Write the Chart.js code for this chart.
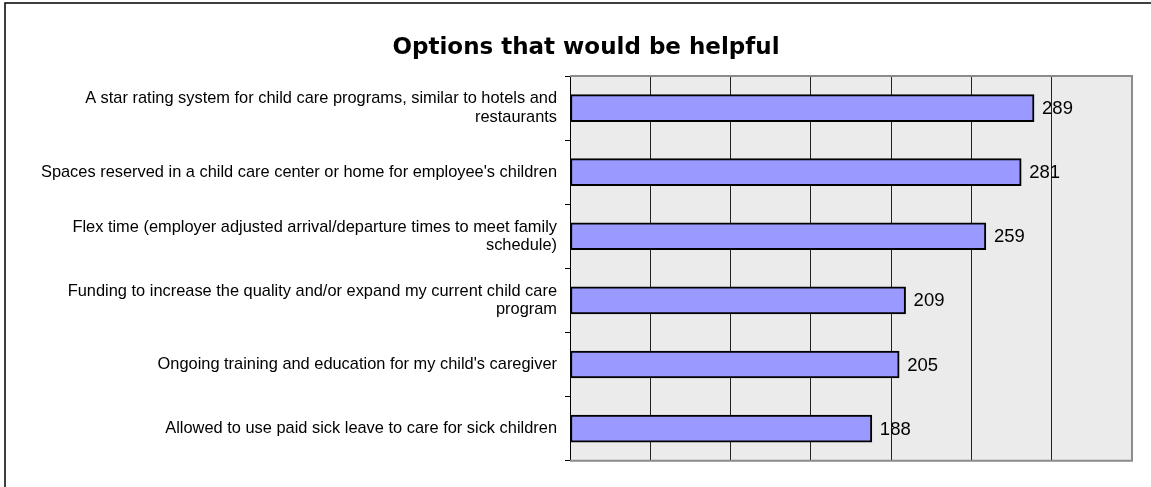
<!DOCTYPE html>
<html>
<head>
<meta charset="utf-8">
<script src="https://cdn.jsdelivr.net/npm/chart.js@4/dist/chart.umd.min.js"></script>
<style>
  html, body { margin: 0; padding: 0; background: #fff; }
  #wrap { width: 1151px; height: 487px; }
</style>
</head>
<body>
<div id="wrap"><canvas id="optionsChart" width="1151" height="487"></canvas></div>
<script>
const chartTitle = 'Options that would be helpful';

const categories = [
    ['A star rating system for child care programs, similar to hotels and', 'restaurants'],
    "Spaces reserved in a child care center or home for employee's children",
    ['Flex time (employer adjusted arrival/departure times to meet family', 'schedule)'],
    ['Funding to increase the quality and/or expand my current child care', 'program'],
    "Ongoing training and education for my child's caregiver",
    'Allowed to use paid sick leave to care for sick children'
];

const responses = [289, 281, 259, 209, 205, 188];

const axisMax = 350;
const axisStep = 50;

const fontFamily = '"Liberation Sans", Arial, sans-serif';

// plot background, frame, title and value labels
const framePlugin = {
    id: 'frame',
    beforeDraw(chart) {
        const { ctx, chartArea: a } = chart;
        ctx.save();
        ctx.fillStyle = '#fff';
        ctx.fillRect(0, 0, chart.width, chart.height);
        ctx.strokeStyle = '#000';
        ctx.lineWidth = 1.5;
        ctx.strokeRect(5, 3, chart.width + 50, chart.height + 50);
        ctx.fillStyle = '#ebebeb';
        ctx.fillRect(a.left, a.top, a.right - a.left, a.bottom - a.top);

        ctx.fillStyle = '#000';
        ctx.font = 'bold 23px "DejaVu Sans", ' + fontFamily;
        ctx.textAlign = 'center';
        ctx.textBaseline = 'alphabetic';
        ctx.fillText(chartTitle, 586, 54);
        ctx.restore();
    },
    afterDatasetsDraw(chart) {
        const { ctx, chartArea: a } = chart;
        ctx.save();
        ctx.strokeStyle = '#8c8c8c';
        ctx.lineWidth = 2;
        ctx.beginPath();
        ctx.moveTo(a.left, a.top);
        ctx.lineTo(a.right, a.top);
        ctx.lineTo(a.right, a.bottom);
        ctx.lineTo(a.left, a.bottom);
        ctx.stroke();

        ctx.fillStyle = '#000';
        ctx.font = '18.5px ' + fontFamily;
        ctx.textAlign = 'left';
        ctx.textBaseline = 'middle';
        chart.getDatasetMeta(0).data.forEach((bar, i) => {
            ctx.fillText(String(responses[i]), bar.x + 8, bar.y + 1);
        });
        ctx.restore();
    }
};

const ctx = document.getElementById('optionsChart').getContext('2d');

new Chart(ctx, {
    type: 'bar',
    data: {
        labels: categories,
        datasets: [{
            data: responses,
            backgroundColor: '#9999ff',
            borderColor: '#000',
            borderWidth: 2,
            borderSkipped: false,
            barThickness: 27
        }]
    },
    options: {
        indexAxis: 'y',
        responsive: false,
        animation: false,
        layout: {
            padding: { left: 5, right: 19, top: 76, bottom: 24 }
        },
        plugins: {
            legend: { display: false },
            tooltip: { enabled: false },
            title: { display: false }
        },
        scales: {
            x: {
                min: 0,
                max: axisMax,
                ticks: { display: false, stepSize: axisStep },
                border: { display: false },
                grid: {
                    drawTicks: false,
                    color: (c) => (c.index === 0 || c.tick.value >= axisMax) ? 'rgba(0,0,0,0)' : '#222',
                    lineWidth: 1
                }
            },
            y: {
                afterFit(scale) {
                    scale.width = 565;
                },
                ticks: {
                    color: '#000',
                    padding: 8,
                    font: { family: fontFamily, size: 16.4, lineHeight: 1.12 }
                },
                border: { display: true, color: '#000', width: 1 },
                grid: {
                    offset: true,
                    drawOnChartArea: false,
                    tickLength: 5,
                    color: '#000'
                }
            }
        }
    },
    plugins: [framePlugin]
});
</script>
</body>
</html>
